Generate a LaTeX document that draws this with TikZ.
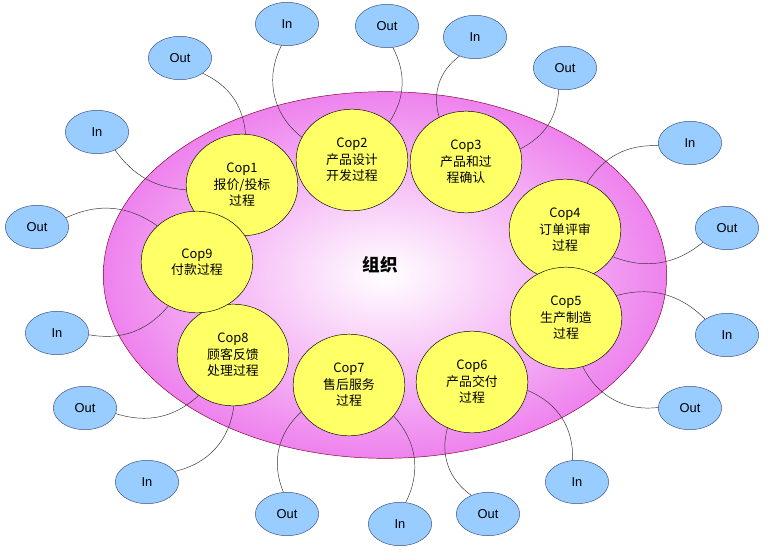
\documentclass[tikz,border=0pt]{standalone}
\usepackage{fontspec}
\setmainfont{Liberation Sans}
\newfontfamily\cjk{Noto Sans CJK SC}
\usetikzlibrary{shapes.geometric}
\definecolor{portblue}{RGB}{153,204,255}
\definecolor{portedge}{RGB}{60,80,130}
\definecolor{copyellow}{RGB}{255,255,102}
\definecolor{orgpink}{RGB}{238,130,238}
\tikzset{
  port/.style={ellipse, draw=portedge, fill=portblue, minimum width=1.9cm, minimum height=1.3cm, inner sep=0pt, font=\fontsize{11}{13}\selectfont},
  cop/.style={ellipse, draw=black, fill=copyellow, minimum width=3.35cm, minimum height=3.05cm, inner sep=0pt, align=center, font=\fontsize{11}{14}\selectfont\cjk},
  link/.style={draw=black!80, thin}
}
\begin{document}
\begin{tikzpicture}[x=0.03cm,y=-0.03cm]
        \useasboundingbox (0,0) rectangle (773,560);
        \node(org) at (385,275) [ellipse, draw=purple!70!black, inner color=white, outer color=orgpink, minimum width=16.9cm, minimum height=11cm] {};
        \node(orgtext) at (380,265) {\fontsize{15}{18}\selectfont\cjk\bfseries 组织};

        \node(c1) at (242,185) [cop] {Cop1\\报价/投标\\过程};
        \node(c2) at (352,160) [cop] {Cop2\\产品设计\\开发过程};
        \node(c3) at (466,162) [cop] {Cop3\\产品和过\\程确认};
        \node(c4) at (565,230) [cop] {Cop4\\订单评审\\过程};
        \node(c5) at (566,318) [cop] {Cop5\\生产制造\\过程};
        \node(c6) at (472,382) [cop] {Cop6\\产品交付\\过程};
        \node(c7) at (349,385) [cop] {Cop7\\售后服务\\过程};
        \node(c8) at (233,355) [cop] {Cop8\\顾客反馈\\处理过程};
        \node(c9) at (197,262) [cop] {Cop9\\付款过程};

        \node(o1) at (180,58) [port] {Out};
        \node(i1) at (97,132) [port] {In};
        \node(i2) at (287,24) [port] {In};
        \node(o2) at (387,26) [port] {Out};
        \node(i3) at (475,37) [port] {In};
        \node(o3) at (565,68) [port] {Out};
        \node(i4) at (690,143) [port] {In};
        \node(o4) at (727,228) [port] {Out};
        \node(i5) at (727,335) [port] {In};
        \node(o5) at (690,408) [port] {Out};
        \node(i6) at (577,482) [port] {In};
        \node(o6) at (488,514) [port] {Out};
        \node(o7) at (287,514) [port] {Out};
        \node(i7) at (400,524) [port] {In};
        \node(o8) at (85,408) [port] {Out};
        \node(i8) at (147,482) [port] {In};
        \node(o9) at (37,227) [port] {Out};
        \node(i9) at (57,333) [port] {In};

        \begin{scope}[on background layer/.style={}]
        \draw[link] (o1) to[bend left=30] (c1);
        \draw[link] (i1) to[bend right=25] (c1);
        \draw[link] (i2) to[bend right=40] (c2);
        \draw[link] (o2) to[bend left=30] (c2);
        \draw[link] (i3) to[bend right=35] (c3);
        \draw[link] (o3) to[bend left=30] (c3);
        \draw[link] (i4) to[bend right=30] (c4);
        \draw[link] (o4) to[bend left=30] (c4);
        \draw[link] (i5) to[bend right=30] (c5);
        \draw[link] (o5) to[bend left=35] (c5);
        \draw[link] (i6) to[bend right=35] (c6);
        \draw[link] (o6) to[bend left=35] (c6);
        \draw[link] (o7) to[bend left=35] (c7);
        \draw[link] (i7) to[bend right=35] (c7);
        \draw[link] (o8) to[bend right=30] (c8);
        \draw[link] (i8) to[bend right=35] (c8);
        \draw[link] (o9) to[bend left=30] (c9);
        \draw[link] (i9) to[bend right=30] (c9);
        \end{scope}
    \end{tikzpicture}
\end{document}
